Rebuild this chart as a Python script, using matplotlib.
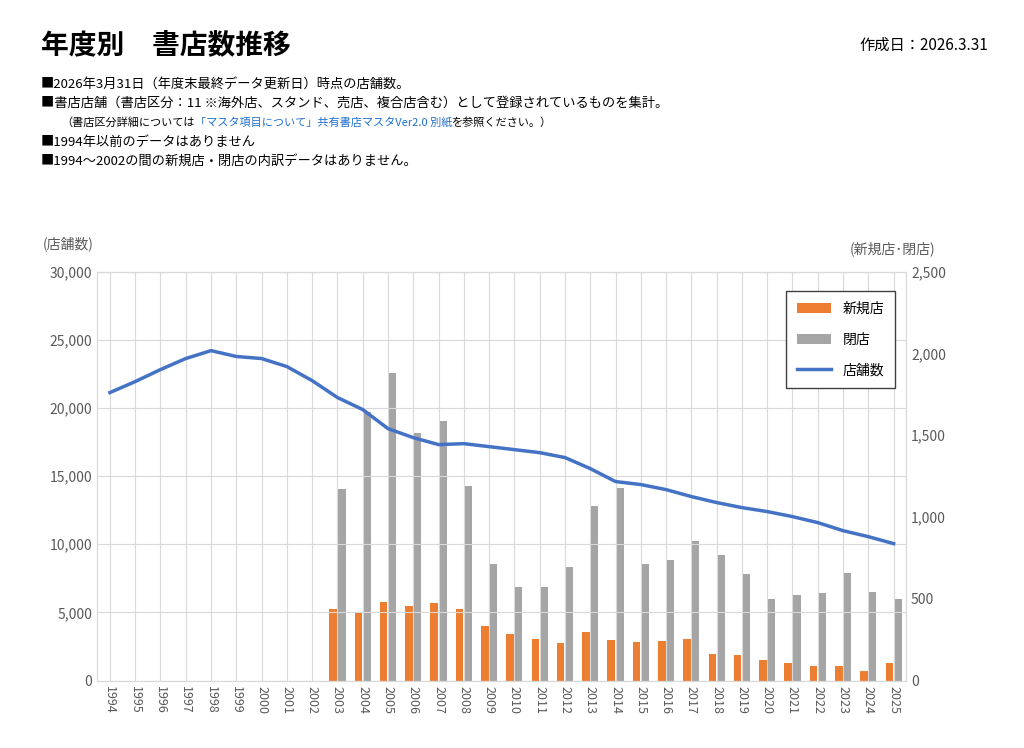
import matplotlib
matplotlib.use("Agg")
import matplotlib.pyplot as plt
import numpy as np

plt.rcParams["font.family"] = ["Noto Sans CJK JP", "DejaVu Sans"]

years = list(range(1994, 2026))
stores = [21125, 21930, 22810, 23620, 24200, 23770, 23620, 23030, 22000, 20760,
          19880, 18480, 17820, 17310, 17380, 17160, 16940, 16720, 16360, 15550,
          14600, 14380, 14010, 13500, 13060, 12690, 12400, 12030, 11590, 11000,
          10560, 10050]
bar_years = list(range(2003, 2026))
new_stores = [440, 415, 483, 458, 477, 440, 336, 287, 257, 232, 300, 251, 238,
              245, 257, 165, 159, 128, 110, 92, 92, 61, 110]
closed = [1174, 1644, 1883, 1516, 1589, 1192, 715, 575, 575, 697, 1070, 1180,
          715, 739, 856, 770, 654, 501, 526, 538, 660, 544, 501]

fig = plt.figure(figsize=(10.24, 7.48), dpi=100)
fig.text(0.04, 0.94, "年度別　書店数推移", fontsize=20, fontweight="bold", va="center")
fig.text(0.965, 0.94, "作成日：2026.3.31", fontsize=11, ha="right", va="center")
lines = [
    (0.04, 0.888, "■2026年3月31日（年度末最終データ更新日）時点の店舗数。"),
    (0.04, 0.862, "■書店店舗（書店区分：11 ※海外店、スタンド、売店、複合店含む）として登録されているものを集計。"),
    (0.04, 0.810, "■1994年以前のデータはありません"),
    (0.04, 0.784, "■1994～2002の間の新規店・閉店の内訳データはありません。"),
]
for x, y, s in lines:
    fig.text(x, y, s, fontsize=9.5, va="center")

# three-part line with a blue link text, placed one after another
fig.canvas.draw()
renderer = fig.canvas.get_renderer()
parts = [("（書店区分詳細については", "black"),
         ("「マスタ項目について」共有書店マスタVer2.0 別紙", "#1f6fd0"),
         ("を参照ください。）", "black")]
xpos = 0.06
for s, c in parts:
    t = fig.text(xpos, 0.836, s, fontsize=8, va="center", color=c)
    bb = t.get_window_extent(renderer)
    xpos += bb.width / fig.bbox.width

ax = fig.add_axes([0.095, 0.09, 0.79, 0.547])
ax2 = ax.twinx()
x = np.arange(len(years))
bx = np.array([years.index(y) for y in bar_years])
w = 0.3
h1 = ax2.bar(bx - w / 2 - 0.02, new_stores, w, color="#ed7d31", label="新規店")
h2 = ax2.bar(bx + w / 2 + 0.02, closed, w, color="#a5a5a5", label="閉店")
h3, = ax.plot(x, stores, color="#4472c4", lw=2.5, zorder=5, label="店舗数")
ax.set_zorder(ax2.get_zorder() + 1)
ax.patch.set_visible(False)

ax.set_ylim(0, 30000)
ax2.set_ylim(0, 2500)
ax.set_xlim(-0.5, len(years) - 0.5)
ax.set_yticks(np.arange(0, 30001, 5000))
ax.set_yticklabels([f"{v:,}" for v in range(0, 30001, 5000)])
ax2.set_yticks(np.arange(0, 2501, 500))
ax2.set_yticklabels([f"{v:,}" for v in range(0, 2501, 500)])
ax.set_xticks(x)
ax.set_xticklabels([str(y) for y in years], rotation=270, fontsize=9)
ax.grid(True, axis="both", color="#d9d9d9", lw=0.8)
ax.set_axisbelow(True)
for a in (ax, ax2):
    a.tick_params(length=0, colors="#595959", labelsize=10)
    for s in a.spines.values():
        s.set_color("#d9d9d9")
ax.tick_params(axis="x", labelsize=9)
fig.text(0.042, 0.668, "(店舗数)", fontsize=10, color="#595959")
fig.text(0.83, 0.662, "(新規店･閉店)", fontsize=10, color="#595959")
ax.legend([h1, h2, h3], ["新規店", "閉店", "店舗数"], loc="upper right",
          bbox_to_anchor=(0.995, 0.97), fontsize=10, frameon=True, fancybox=False,
          edgecolor="#404040", handlelength=2.5, labelspacing=1.2, borderpad=0.8,
          framealpha=1)
fig.savefig("out.png", dpi=100)
